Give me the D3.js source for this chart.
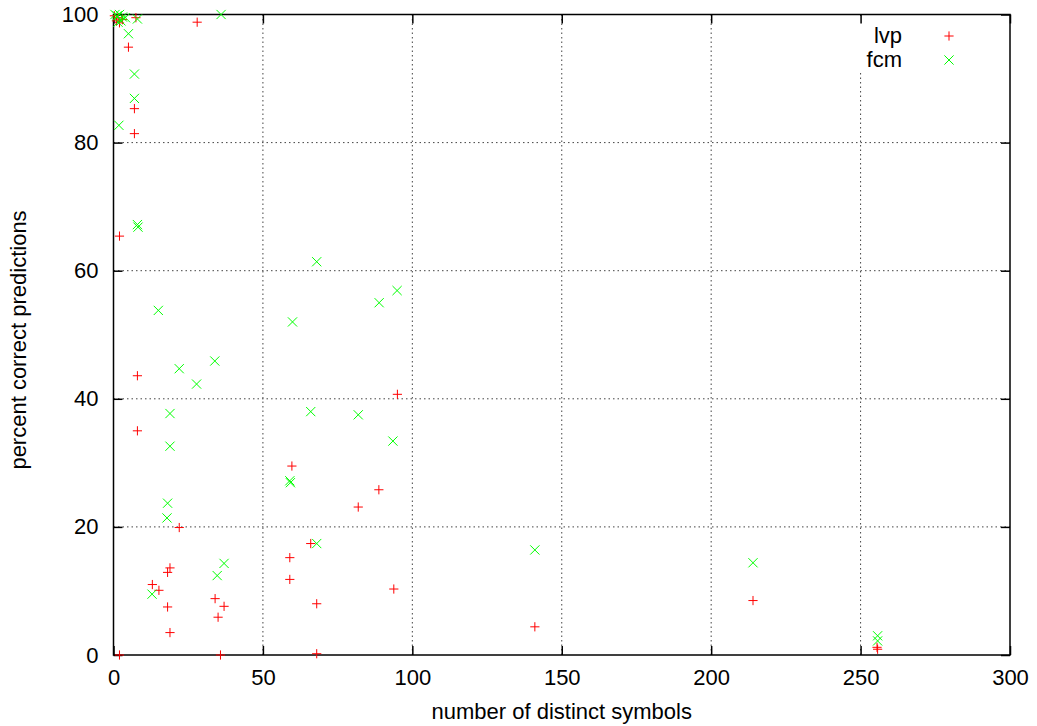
<!DOCTYPE html>
<html>
<head>
<meta charset="utf-8">
<script src="https://cdn.jsdelivr.net/npm/d3@7"></script>
<style>
  body { margin: 0; background: #fff; }
  text { font-family: "Liberation Sans", Arial, sans-serif; fill: #000; }
</style>
</head>
<body>
<div id="chart"></div>
<script>
// data
const lvpX = [28, 0.3, 1, 2, 3, 7.5, 1.5, 5, 7, 7, 2, 8, 8, 22, 18.9, 18.1, 13, 15.2, 18.1, 18.9, 2, 35.8, 34, 37, 35, 95, 59.7, 88.8, 81.9, 66, 59, 59, 93.8, 68, 68, 141, 214, 255.5, 255.7];
const lvpY = [98.8, 99.8, 99, 98.7, 99.2, 99.5, 99.5, 94.9, 85.3, 81.4, 65.4, 43.6, 35, 19.9, 13.6, 12.9, 11.0, 10.1, 7.5, 3.5, 0, 0, 8.8, 7.6, 5.9, 40.7, 29.5, 25.8, 23.1, 17.4, 15.2, 11.8, 10.3, 8.0, 0.2, 4.4, 8.5, 1.2, 0.9];

const fcmX = [36, 0.5, 1.2, 2, 3, 1.5, 4, 2.5, 8, 5, 7, 7, 1.8, 8, 8.2, 15, 22, 27.8, 33.9, 18.9, 18.9, 18.1, 17.9, 12.9, 37, 34.7, 68, 94.9, 88.9, 59.9, 66, 81.9, 93.5, 59, 59.2, 68, 141, 214, 255.7, 255.7];
const fcmY = [100, 100, 99.8, 100, 99.6, 98.8, 99.5, 99, 99.3, 97, 90.7, 86.9, 82.7, 67.2, 66.8, 53.8, 44.7, 42.3, 45.9, 37.7, 32.6, 23.7, 21.4, 9.5, 14.3, 12.4, 61.4, 56.9, 55, 52, 38, 37.5, 33.4, 27.2, 26.9, 17.4, 16.4, 14.4, 3.0, 2.2];

const xTicks = [0, 50, 100, 150, 200, 250, 300];
const yTicks = [0, 20, 40, 60, 80, 100];

const width = 1037, height = 726;
const mLeft = 113.5, mRight = 1010, mTop = 14.5, mBottom = 655;

const x = d3.scaleLinear().domain([0, 300]).range([mLeft, mRight]);
const y = d3.scaleLinear().domain([0, 100]).range([mBottom, mTop]);

const svg = d3.select("#chart").append("svg")
  .attr("width", width)
  .attr("height", height);

// grid
svg.append("g").selectAll("line")
  .data(xTicks.slice(1, -1)).enter().append("line")
  .attr("x1", d => x(d)).attr("x2", d => x(d))
  .attr("y1", mTop).attr("y2", mBottom)
  .attr("stroke", "#444").attr("stroke-dasharray", "1.5,3");
svg.append("g").selectAll("line")
  .data(yTicks.slice(1, -1)).enter().append("line")
  .attr("y1", d => y(d)).attr("y2", d => y(d))
  .attr("x1", mLeft).attr("x2", mRight)
  .attr("stroke", "#444").attr("stroke-dasharray", "1.5,3");

// legend background hides the grid
svg.append("rect")
  .attr("x", 845).attr("y", 18).attr("width", 160).attr("height", 54)
  .attr("fill", "#fff");

// axes, ticks pointing inward, mirrored
const tl = 9;
const xb = svg.append("g").attr("transform", "translate(0," + mBottom + ")")
  .call(d3.axisBottom(x).tickValues(xTicks).tickSizeInner(-tl).tickSizeOuter(0).tickPadding(14));
const xt = svg.append("g").attr("transform", "translate(0," + mTop + ")")
  .call(d3.axisTop(x).tickValues(xTicks).tickSizeInner(-tl).tickSizeOuter(0).tickFormat(""));
const yl = svg.append("g").attr("transform", "translate(" + mLeft + ",0)")
  .call(d3.axisLeft(y).tickValues(yTicks).tickSizeInner(-tl).tickSizeOuter(0).tickPadding(15));
const yr = svg.append("g").attr("transform", "translate(" + mRight + ",0)")
  .call(d3.axisRight(y).tickValues(yTicks).tickSizeInner(-tl).tickSizeOuter(0).tickFormat(""));

[xb, xt, yl, yr].forEach(g => {
  g.select(".domain").remove();
  g.selectAll(".tick line").attr("stroke", "#000").attr("stroke-width", 1.5);
  g.selectAll("text").style("font-size", "22px").attr("fill", "#000");
});
xb.selectAll("text").attr("dy", "0.71em");

svg.append("rect")
  .attr("x", mLeft).attr("y", mTop)
  .attr("width", mRight - mLeft).attr("height", mBottom - mTop)
  .attr("fill", "none").attr("stroke", "#000").attr("stroke-width", 1.5);

// markers
const s = 4.6;
function plus(g, cx, cy, col) {
  g.append("path")
    .attr("d", `M${cx - s},${cy}H${cx + s}M${cx},${cy - s}V${cy + s}`)
    .attr("stroke", col).attr("stroke-width", 1).attr("fill", "none");
}
function cross(g, cx, cy, col) {
  g.append("path")
    .attr("d", `M${cx - s},${cy - s}L${cx + s},${cy + s}M${cx - s},${cy + s}L${cx + s},${cy - s}`)
    .attr("stroke", col).attr("stroke-width", 1).attr("fill", "none");
}

const red = "#ff0000", green = "#00ff00";
const gl = svg.append("g");
lvpX.forEach((d, i) => plus(gl, x(d), y(lvpY[i]), red));
const gf = svg.append("g");
fcmX.forEach((d, i) => cross(gf, x(d), y(fcmY[i]), green));

// legend
const leg = svg.append("g");
leg.append("text").attr("x", 902).attr("y", 43).attr("text-anchor", "end")
  .style("font-size", "22px").text("lvp");
plus(leg, 949, 36, red);
leg.append("text").attr("x", 902).attr("y", 67).attr("text-anchor", "end")
  .style("font-size", "22px").text("fcm");
cross(leg, 949, 60, green);

// axis titles
svg.append("text")
  .attr("x", (mLeft + mRight) / 2).attr("y", 719)
  .attr("text-anchor", "middle").style("font-size", "22px")
  .text("number of distinct symbols");
svg.append("text")
  .attr("transform", "translate(26,340) rotate(-90)")
  .attr("text-anchor", "middle").style("font-size", "22px")
  .text("percent correct predictions");
</script>
</body>
</html>
